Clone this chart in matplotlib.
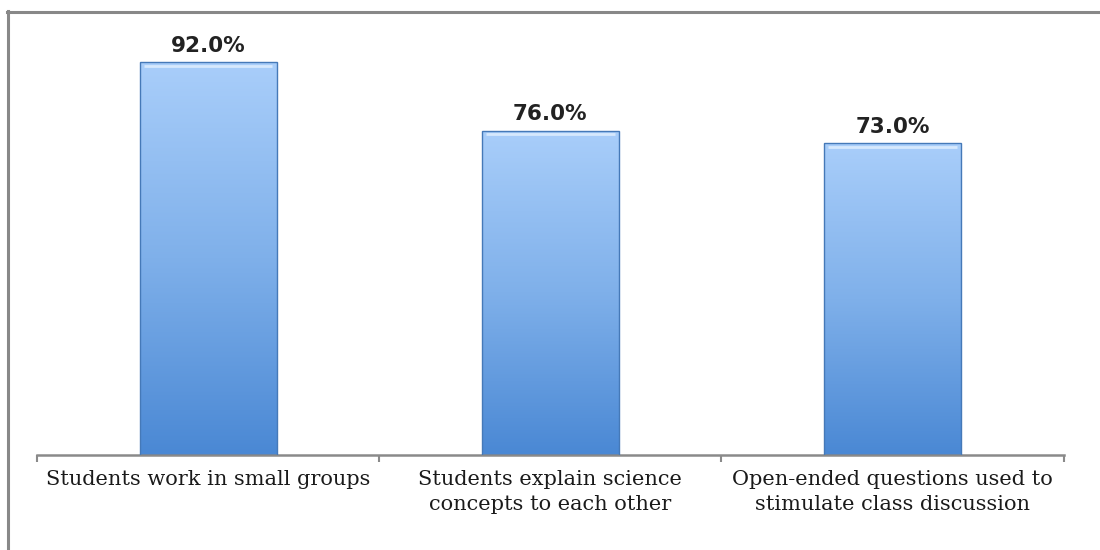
import numpy as np
import matplotlib.pyplot as plt
from matplotlib.colors import LinearSegmentedColormap
from matplotlib.lines import Line2D

categories = ["Students work in small groups",
              "Students explain science\nconcepts to each other",
              "Open-ended questions used to\nstimulate class discussion"]
values = [92.0, 76.0, 73.0]
value_labels = ["92.0%", "76.0%", "73.0%"]

fig = plt.figure(figsize=(11, 5.5), dpi=100)
ax = fig.add_axes([0.0336, 0.1727, 0.9334, 0.776])

x = np.arange(len(categories))
width = 0.4
bars = ax.bar(x, values, width=width, color="none", edgecolor="#4579b8", linewidth=1.0, zorder=3)

# vertical gradient fill, light at the top, darker at the base
cmap = LinearSegmentedColormap.from_list("barfill", ["#4a88d4", "#7fb0ea", "#a9cefa"])
grad = np.linspace(0, 1, 256).reshape(-1, 1)
for b in bars:
    x0, y0 = b.get_x(), b.get_y()
    w, h = b.get_width(), b.get_height()
    im = ax.imshow(grad, cmap=cmap, origin="lower", aspect="auto",
                   extent=[x0, x0 + w, y0, y0 + h], zorder=2)
    im.set_clip_path(b)
    # bevel highlight along the top edge
    ax.plot([x0 + w * 0.03, x0 + w * 0.97], [y0 + h - 0.8, y0 + h - 0.8],
            color="#d6e8fd", lw=2, zorder=4, solid_capstyle="butt")

for xi, v, lab in zip(x, values, value_labels):
    ax.text(xi, v + 1.6, lab, ha="center", va="bottom", fontsize=15.5,
            fontweight="bold", family="DejaVu Sans", color="#222222")

ax.set_xlim(-0.5, 2.5)
ax.set_ylim(0, 100)
ax.set_yticks([])
ax.set_xticks([-0.5, 0.5, 1.5, 2.5])
ax.set_xticklabels([])
ax.tick_params(axis="x", direction="out", length=5, width=1.5, color="#8a8a8a")
for s in ["top", "right", "left"]:
    ax.spines[s].set_visible(False)
ax.spines["bottom"].set_color("#8a8a8a")
ax.spines["bottom"].set_linewidth(1.8)

for xi, c in zip(x, categories):
    ax.text(xi, -3.4, c, ha="center", va="top", fontsize=15,
            family="DejaVu Serif", color="#1a1a1a", linespacing=1.45)

# frame along the left and top of the figure
fig.add_artist(Line2D([0.0075, 0.0075], [0, 0.98], transform=fig.transFigure,
                      color="#888888", lw=2.2))
fig.add_artist(Line2D([0.0065, 1.0], [0.978, 0.978], transform=fig.transFigure,
                      color="#888888", lw=2.2))

fig.savefig("out.png", dpi=100)
